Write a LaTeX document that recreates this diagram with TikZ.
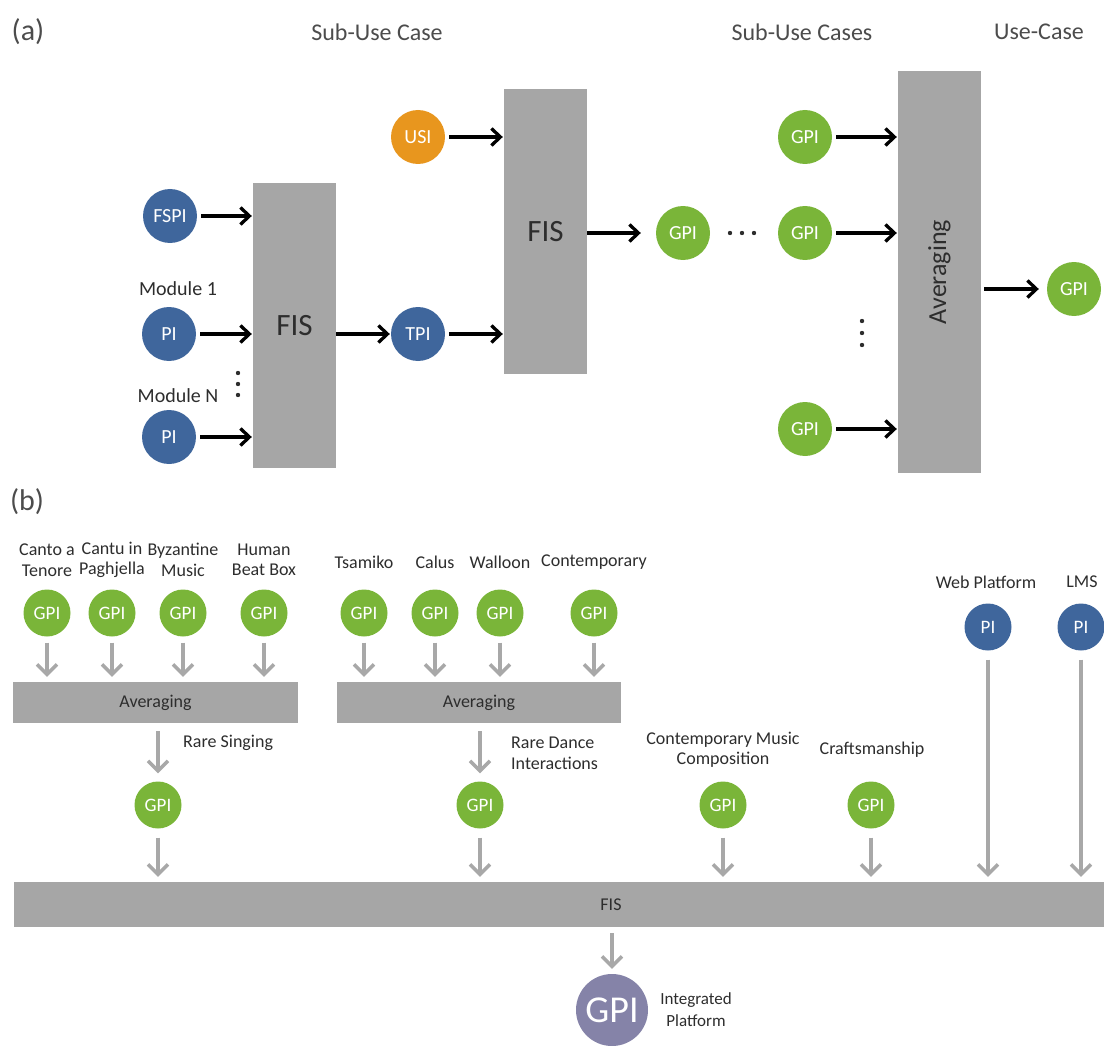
\documentclass[tikz,border=0pt]{standalone}
\usepackage{fontspec}
\setmainfont{Carlito}
\usepackage{tikz}
\usetikzlibrary{positioning}
\usetikzlibrary{arrows.meta}
\definecolor{piblue}{RGB}{63,102,156}
\definecolor{gpigreen}{RGB}{122,181,57}
\definecolor{usiorange}{RGB}{232,150,30}
\definecolor{boxgray}{RGB}{166,166,166}
\definecolor{linegray}{RGB}{168,168,168}
\definecolor{intpurple}{RGB}{133,131,168}
\definecolor{txt}{RGB}{45,45,45}
\newcommand{\fsz}[2]{\fontsize{#1}{#2}\selectfont}
\tikzset{PI/.style={circle,fill=piblue,text=white,inner sep=0pt,minimum size=54pt,font=\fsz{20}{24}}}
\tikzset{GPI/.style={PI,fill=gpigreen}}
\tikzset{USI/.style={PI,fill=usiorange}}
\tikzset{PIb/.style={PI,minimum size=47pt,font=\fsz{19}{22}}}
\tikzset{GPIb/.style={PIb,fill=gpigreen}}
\tikzset{block/.style={fill=boxgray,text=txt,inner sep=0pt}}
\tikzset{hdr/.style={text=txt!85,font=\fsz{24}{24}}}
\tikzset{lbl/.style={text=txt,font=\fsz{18}{20.5},align=center,inner sep=0pt}}
\tikzset{arr/.style={-{Straight Barb[length=9pt,width=17pt]},line width=3.3pt,shorten <=4pt,shorten >=1pt}}
\tikzset{garr/.style={-{Straight Barb[length=10pt,width=20pt]},draw=linegray,line width=3.5pt,shorten <=6pt,shorten >=5pt}}

\begin{document}
\begin{tikzpicture}[x=1pt,y=-1pt]
\useasboundingbox (0,0) rectangle (1104,1046);
\clip (0,0) rectangle (1104,1046);

% (a)
\node[hdr,font=\fsz{30}{30}] (a) at (28,32) {(a)};
\node[hdr] (h1) at (377,32) {Sub-Use Case};
\node[hdr] (h2) at (802,32) {Sub-Use Cases};
\node[hdr] (h3) at (1039,32) {Use-Case};

\node[block,minimum width=83pt,minimum height=285pt,font=\fsz{31}{31}] (fis1) at (294.5,325.5) {FIS};
\node[block,minimum width=83pt,minimum height=285pt,font=\fsz{31}{31}] (fis2) at (545.5,231.5) {FIS};
\node[block,minimum width=83pt,minimum height=402pt,
  label={[rotate=90,text=txt,font=\fsz{26}{26}]center:Averaging}] (avg) at (939.5,272) {};

\node[PI] (fspi) at (170,216) {FSPI};
\node[lbl,font=\fsz{20}{20}] (m1) at (178,289) {Module 1};
\node[PI] (pi1) at (169,334) {PI};
\node[lbl,font=\fsz{20}{20}] (mN) at (178,396) {Module N};
\node[PI] (piN) at (169,437) {PI};
\foreach \k in {0,1,2}
  \fill[txt] (238,373+11*\k) circle (2.2pt);

\node[USI] (usi) at (418,137) {USI};
\node[PI] (tpi) at (418,334) {TPI};

\node[GPI] (g1) at (683,233) {GPI};
\node[GPI] (g2) at (805,233) {GPI};
\node[GPI] (gtop) at (805,137) {GPI};
\node[GPI] (gbot) at (805,429) {GPI};
\node[GPI] (guc) at (1074,289) {GPI};
\foreach \k in {0,1,2}
  {
  \fill[txt] (730+12*\k,233) circle (2.2pt);
  \fill[txt] (862,321+12*\k) circle (2.2pt);
  }

\draw[arr] (fspi) -- (fspi -| fis1.west);
\draw[arr] (pi1) -- (pi1 -| fis1.west);
\draw[arr] (piN) -- (piN -| fis1.west);
\draw[arr,shorten <=0pt] (fis1.east |- tpi) -- (tpi);
\draw[arr] (tpi) -- (tpi -| fis2.west);
\draw[arr] (usi) -- (usi -| fis2.west);
\draw[arr,shorten <=0pt,shorten >=15pt] (fis2.east |- g1) -- (g1);
\foreach \n in {gtop,g2,gbot}
  \draw[arr] (\n) -- (\n -| avg.west);
\draw[arr,shorten <=3pt,shorten >=8pt] (avg.east |- guc) -- (guc);

% (b)
\node[hdr,font=\fsz{30}{30}] (b) at (27,502) {(b)};

\node[block,minimum width=285pt,minimum height=41pt,font=\fsz{18}{18}] (avg1) at (155.5,702.5) {Averaging};
\node[block,minimum width=284pt,minimum height=41pt,font=\fsz{18}{18}] (avg2) at (479,702.5) {Averaging};
\node[block,minimum width=1194pt,minimum height=45pt,font=\fsz{18}{18}] (fis) at (611,904.5) {FIS};

\foreach \x/\t [count=\i] in {47/{Canto a\\Tenore},112/{Cantu in\\Paghjella},183/{Byzantine\\Music},264/{Human\\Beat Box}}
  {
  \node[GPIb] (s\i) at (\x,613) {GPI};
  \node[lbl] (sl\i) at (\x,560) {\t};
  \draw[garr] (s\i) -- (s\i |- avg1.north);
  }
\foreach \x/\t [count=\i] in {364/Tsamiko,435/Calus,500/Walloon,594/Contemporary}
  {
  \node[GPIb] (d\i) at (\x,613) {GPI};
  \node[lbl] (dl\i) at (\x,562) {\t};
  \draw[garr] (d\i) -- (d\i |- avg2.north);
  }

\node[GPIb] (rs) at (158,805) {GPI};
\node[lbl,anchor=west] (rsl) at (183,743) {Rare Singing};
\node[GPIb] (rd) at (480,805) {GPI};
\node[lbl,anchor=west,align=left] (rdl) at (511,753.5) {Rare Dance\\Interactions};
\node[GPIb] (cm) at (723,805) {GPI};
\node[lbl] (cml) at (723,750) {Contemporary Music\\Composition};
\node[GPIb] (cr) at (871,805) {GPI};
\node[lbl] (crl) at (872,750) {Craftsmanship};
\node[PIb] (wp) at (988,627) {PI};
\node[lbl] (wpl) at (986,582) {Web Platform};
\node[PIb] (lms) at (1081,627) {PI};
\node[lbl] (lmsl) at (1082,582) {LMS};

\draw[garr,shorten <=8pt,shorten >=8pt] (avg1.south -| rs) -- (rs);
\draw[garr,shorten <=8pt,shorten >=8pt] (avg2.south -| rd) -- (rd);
\foreach \n in {rs,rd,cm,cr,wp,lms}
  \draw[garr,shorten <=9pt] (\n) -- (\n |- fis.north);

\node[circle,fill=intpurple,text=white,inner sep=0pt,minimum size=72pt,font=\fsz{38}{38}] (ip) at (612,1010) {GPI};
\node[lbl,font=\fsz{17}{22}] (ipl) at (696,1009.5) {Integrated\\Platform};
\draw[garr] (ip |- fis.south) -- (ip);

\end{tikzpicture}
\end{document}
